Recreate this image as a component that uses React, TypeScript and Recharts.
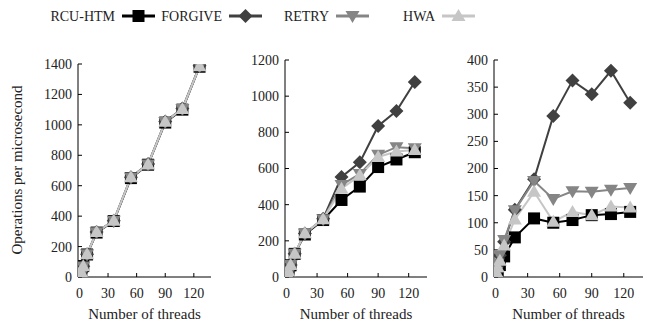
import React from 'react';
import { LineChart, Line, XAxis, YAxis } from 'recharts';

const threads = [1, 2, 4, 8, 18, 36, 54, 72, 90, 108, 126];
const xTicks = [0, 30, 60, 90, 120];

// panel 1
const p1RcuHtm = [14, 32, 72, 148, 292, 368, 650, 738, 1015, 1100, 1382];
const p1Forgive = [12, 30, 70, 150, 296, 370, 656, 742, 1022, 1108, 1388];
const p1Retry = [12, 29, 69, 149, 294, 369, 654, 740, 1019, 1104, 1386];
const p1Hwa = [12, 30, 70, 150, 295, 370, 655, 740, 1020, 1105, 1385];
const p1Ticks = [0, 200, 400, 600, 800, 1000, 1200, 1400];

// panel 2
const p2RcuHtm = [15, 30, 65, 128, 235, 315, 426, 500, 608, 650, 690];
const p2Forgive = [15, 30, 66, 128, 240, 322, 553, 634, 835, 918, 1078];
const p2Retry = [15, 30, 66, 128, 240, 320, 509, 570, 676, 718, 712];
const p2Hwa = [15, 30, 66, 128, 242, 320, 488, 562, 664, 694, 702];
const p2Ticks = [0, 200, 400, 600, 800, 1000, 1200];

// panel 3
const p3RcuHtm = [6, 12, 22, 38, 73, 108, 100, 105, 114, 116, 120];
const p3Forgive = [10, 25, 40, 65, 124, 180, 297, 362, 337, 380, 321];
const p3Retry = [10, 25, 40, 68, 123, 177, 144, 158, 157, 161, 164];
const p3Hwa = [8, 18, 30, 58, 106, 157, 102, 120, 114, 130, 128];
const p3Ticks = [0, 50, 100, 150, 200, 250, 300, 350, 400];

const FONT = '"Liberation Serif", "Times New Roman", serif';
const C_RCU = '#000000';
const C_FORGIVE = '#404040';
const C_RETRY = '#858585';
const C_HWA = '#c6c6c6';

const build = (a: number[], b: number[], c: number[], d: number[]) =>
  threads.map((t, i) => ({ threads: t, rcu: a[i], forgive: b[i], retry: c[i], hwa: d[i] }));

const Marker = ({ kind, color, cx, cy }: { kind: string; color: string; cx: number; cy: number }) => {
  if (kind === 'square') return <rect x={cx - 6} y={cy - 6} width={12} height={12} fill={color} />;
  if (kind === 'diamond')
    return <polygon points={`${cx},${cy - 7} ${cx + 7},${cy} ${cx},${cy + 7} ${cx - 7},${cy}`} fill={color} />;
  if (kind === 'down')
    return <polygon points={`${cx - 7},${cy - 5} ${cx + 7},${cy - 5} ${cx},${cy + 7}`} fill={color} />;
  return <polygon points={`${cx - 7},${cy + 5} ${cx + 7},${cy + 5} ${cx},${cy - 7}`} fill={color} />;
};

const dot = (kind: string, color: string) => (props: any) => (
  <Marker key={`${kind}-${props.index}`} kind={kind} color={color} cx={props.cx} cy={props.cy} />
);

const series = [
  { key: 'rcu', name: 'RCU-HTM', color: C_RCU, kind: 'square' },
  { key: 'forgive', name: 'FORGIVE', color: C_FORGIVE, kind: 'diamond' },
  { key: 'retry', name: 'RETRY', color: C_RETRY, kind: 'down' },
  { key: 'hwa', name: 'HWA', color: C_HWA, kind: 'up' },
];

interface PanelProps {
  data: any[];
  left: number;
  width: number;
  margin: { top: number; right: number; bottom: number; left: number };
  yTicks: number[];
  yWidth: number;
}

const tickStyle = { fontFamily: FONT, fontSize: 14, fill: '#222' };
const labelStyle = { fontFamily: FONT, fontSize: 15, fill: '#222' };

const Panel: React.FC<PanelProps> = ({ data, left, width, margin, yTicks, yWidth }) => {
  const yDomain = [0, yTicks[yTicks.length - 1]];
  return (
    <div style={{ position: 'absolute', left, top: 0 }}>
      <LineChart width={width} height={332} data={data} margin={margin}>
        <XAxis
          dataKey="threads"
          type="number"
          domain={[-1.5, 138]}
          ticks={xTicks}
          allowDataOverflow
          height={42}
          tickSize={-4}
          tickMargin={15}
          stroke="#000"
          tick={tickStyle}
          label={{ value: 'Number of threads', position: 'insideBottom', offset: 0, style: labelStyle }}
        />
        <XAxis
          xAxisId="top"
          orientation="top"
          type="number"
          domain={[-1.5, 138]}
          ticks={xTicks}
          allowDataOverflow
          height={0}
          tickSize={-4}
          tick={false}
          stroke="#000"
        />
        <YAxis
          type="number"
          domain={yDomain}
          ticks={yTicks}
          allowDataOverflow
          width={yWidth}
          tickSize={-4}
          tickMargin={10}
          stroke="#000"
          tick={tickStyle}
        />
        <YAxis
          yAxisId="right"
          orientation="right"
          type="number"
          domain={yDomain}
          ticks={yTicks}
          allowDataOverflow
          width={0}
          tickSize={-4}
          tick={false}
          stroke="#000"
        />
        {series.map((s) => (
          <Line
            key={s.key}
            dataKey={s.key}
            stroke={s.color}
            strokeWidth={2}
            dot={dot(s.kind, s.color)}
            activeDot={false}
            isAnimationActive={false}
          />
        ))}
      </LineChart>
    </div>
  );
};

const legendPos = [
  { textEnd: 115, sym: 122 },
  { textEnd: 222, sym: 229 },
  { textEnd: 329, sym: 336 },
  { textEnd: 435, sym: 442 },
];

export default function App() {
  return (
    <div style={{ position: 'absolute', left: 0, top: 0, width: 647, height: 332, background: '#fff' }}>
      <Panel
        data={build(p1RcuHtm, p1Forgive, p1Retry, p1Hwa)}
        left={0}
        width={220}
        margin={{ top: 64, right: 9, bottom: 13, left: 38 }}
        yTicks={p1Ticks}
        yWidth={40}
      />
      <Panel
        data={build(p2RcuHtm, p2Forgive, p2Retry, p2Hwa)}
        left={220}
        width={220}
        margin={{ top: 60, right: 13, bottom: 13, left: 25 }}
        yTicks={p2Ticks}
        yWidth={40}
      />
      <Panel
        data={build(p3RcuHtm, p3Forgive, p3Retry, p3Hwa)}
        left={440}
        width={207}
        margin={{ top: 60, right: 4, bottom: 13, left: 19 }}
        yTicks={p3Ticks}
        yWidth={35}
      />
      <svg width={647} height={332} style={{ position: 'absolute', left: 0, top: 0, pointerEvents: 'none' }}>
        <text
          x={17}
          y={170}
          transform="rotate(-90 17 170)"
          textAnchor="middle"
          dominantBaseline="central"
          fontFamily={FONT}
          fontSize={15}
          fill="#222"
        >
          Operations per microsecond
        </text>
        {series.map((s, i) => (
          <g key={s.key}>
            <text
              x={legendPos[i].textEnd}
              y={16}
              textAnchor="end"
              dominantBaseline="central"
              fontFamily={FONT}
              fontSize={14}
              fill="#222"
            >
              {s.name}
            </text>
            <line x1={legendPos[i].sym} x2={legendPos[i].sym + 33} y1={16} y2={16} stroke={s.color} strokeWidth={3} />
            <Marker kind={s.kind} color={s.color} cx={legendPos[i].sym + 16.5} cy={16} />
          </g>
        ))}
      </svg>
    </div>
  );
}
